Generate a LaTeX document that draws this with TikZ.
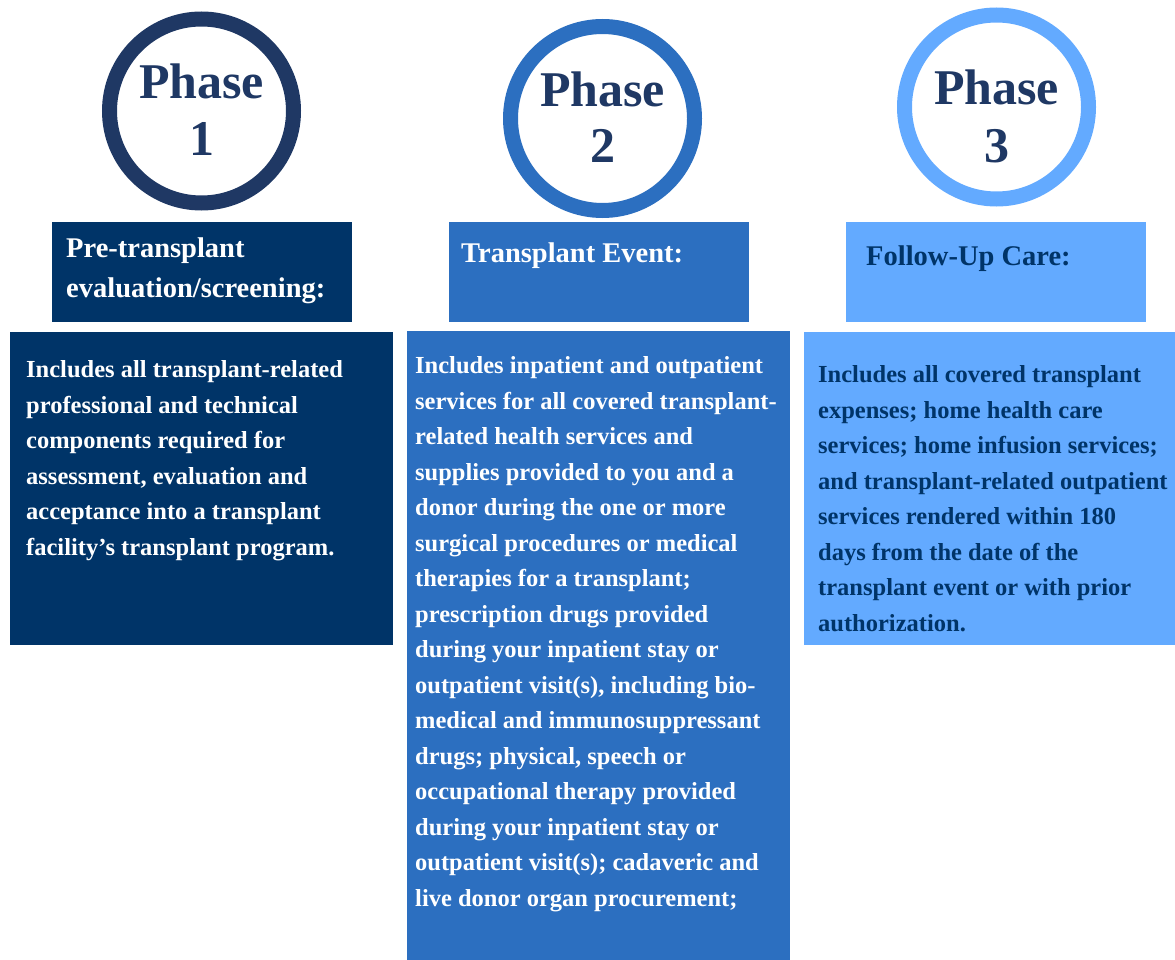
\documentclass[tikz,border=0pt]{standalone}
\usepackage{fontspec}
\setmainfont{Liberation Serif}
\usetikzlibrary{positioning}

\definecolor{ringnavy}{RGB}{31,56,100}
\definecolor{darkblue}{RGB}{0,52,104}
\definecolor{midblue}{RGB}{44,111,192}
\definecolor{lightblue}{RGB}{99,170,255}

\begin{document}
\begin{tikzpicture}[x=1pt, y=-1pt,
    ring/.style={circle, draw=#1, line width=15pt, fill=white, minimum size=184pt, inner sep=0pt},
    phasetext/.style={anchor=base, inner sep=0pt, text=ringnavy, font=\fontsize{50}{57}\selectfont\bfseries},
    box/.style={fill=#1, anchor=north west, inner sep=0pt},
    headtext/.style={align=left, inner sep=0pt, text=#1, font=\fontsize{28.5}{40}\selectfont\bfseries},
    bodytext/.style={anchor=north west, align=left, inner sep=0pt, text=#1, font=\fontsize{24.5}{35.5}\selectfont\bfseries}]
    \useasboundingbox (0,0) rectangle (1175,960);

    % phase circles
    \node[ring=ringnavy] (ring1) at (201.5,111) {};
    \node[ring=midblue] (ring2) at (602.5,118.5) {};
    \node[ring=lightblue] (ring3) at (996.5,107) {};
    \node[phasetext] (ph1) at (201.5,98.5) {Phase};
    \node[phasetext] (num1) at (201.5,156) {1};
    \node[phasetext] (ph2) at (602.5,106.5) {Phase};
    \node[phasetext] (num2) at (602.5,163) {2};
    \node[phasetext] (ph3) at (996.5,104.5) {Phase};
    \node[phasetext] (num3) at (996.5,163) {3};

    % header boxes
    \node[box=darkblue, minimum width=300pt, minimum height=100pt] (head1) at (52,222) {};
    \node[box=midblue, minimum width=300pt, minimum height=100pt] (head2) at (449,222) {};
    \node[box=lightblue, minimum width=300pt, minimum height=100pt] (head3) at (846,222) {};
    \node[headtext=white, anchor=north west] (htxt1) at (66,237.7) {Pre-transplant\\evaluation/screening:};
    \node[headtext=white, anchor=base west] (htxt2) at (461,262) {Transplant Event:};
    \node[headtext=darkblue, anchor=base west] (htxt3) at (866,265) {Follow-Up Care:};

    % body boxes
    \node[box=darkblue, minimum width=383pt, minimum height=313pt] (body1) at (10,332) {};
    \node[box=midblue, minimum width=383pt, minimum height=630pt] (body2) at (407,331) {};
    \node[box=lightblue, minimum width=371pt, minimum height=313pt] (body3) at (804,332) {};

    \node[bodytext=white] (btxt1) at (26,360.4) {Includes all transplant-related\\
        professional and technical\\
        components required for\\
        assessment, evaluation and\\
        acceptance into a transplant\\
        facility's transplant program.};
    \node[bodytext=white] (btxt2) at (415,356.4) {Includes inpatient and outpatient\\
        services for all covered transplant-\\
        related health services and\\
        supplies provided to you and a\\
        donor during the one or more\\
        surgical procedures or medical\\
        therapies for a transplant;\\
        prescription drugs provided\\
        during your inpatient stay or\\
        outpatient visit(s), including bio-\\
        medical and immunosuppressant\\
        drugs; physical, speech or\\
        occupational therapy provided\\
        during your inpatient stay or\\
        outpatient visit(s); cadaveric and\\
        live donor organ procurement;};
    \node[bodytext=darkblue] (btxt3) at (818,365.4) {Includes all covered transplant\\
        expenses; home health care\\
        services; home infusion services;\\
        and transplant-related outpatient\\
        services rendered within 180\\
        days from the date of the\\
        transplant event or with prior\\
        authorization.};
\end{tikzpicture}
\end{document}
